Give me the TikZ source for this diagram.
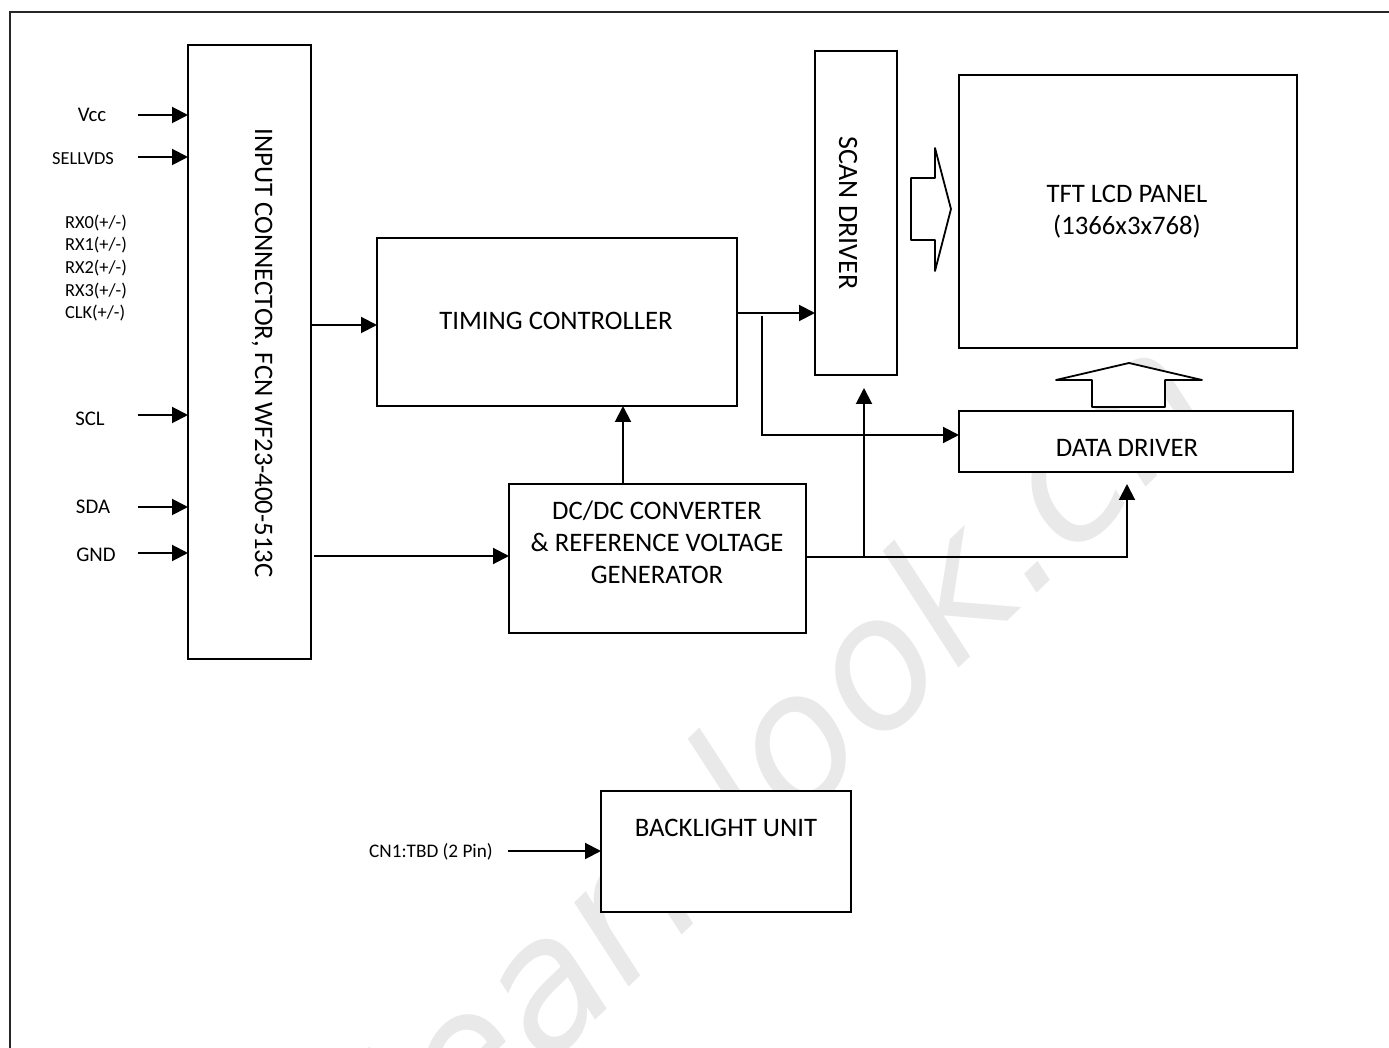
\documentclass[tikz,border=0pt]{standalone}
\usepackage{fontspec}
\setmainfont{Carlito}
\newfontfamily\wmfont{DejaVu Sans}
\usetikzlibrary{arrows.meta}
\definecolor{wmgray}{gray}{0.915}
\tikzset{
  blockbox/.style={draw=black,line width=1.3pt,fill=white,rectangle,inner sep=0pt,outer sep=0pt,anchor=north west},
  maintext/.style={font=\fontsize{13.35}{16}\selectfont,align=center,inner sep=0pt,text=black},
  sigtext/.style={font=\fontsize{10.4}{12}\selectfont,inner sep=0pt,text=black},
  tinytext/.style={font=\fontsize{9.2}{11.3}\selectfont,inner sep=0pt,text=black},
  conn/.style={draw=black,line width=1pt,-{Triangle[length=8pt,width=8pt]}},
  hollow/.style={draw=black,line width=0.9pt,fill=white,line join=round},
  framelin/.style={draw=black!85,line width=1pt}
}
\newcommand{\blk}[6]{\node[blockbox,minimum width=#4*0.5pt,minimum height=#5*0.5pt] (#1) at (#2,#3) {#6};}
\begin{document}
\begin{tikzpicture}[x=0.5pt,y=-0.5pt]
\useasboundingbox (0,0) rectangle (1389,1048);
\begin{scope}
\clip (0,0) rectangle (1389,1048);
\node[rotate=44,text=wmgray,font=\wmfont\itshape\fontsize{90}{90}\selectfont,inner sep=0pt] (wm) at (780,748) {learnlook.cn};
\end{scope}
\coordinate (ftl) at (10,12);
\coordinate (ftr) at (1389,12);
\coordinate (fbl) at (10,1048);
\draw[framelin] (ftr) -- (ftl) -- (fbl);
% blocks
\blk{inbox}{188}{45}{123}{614}{}
\blk{tc}{377}{238}{360}{168}{}
\blk{dc}{509}{484}{297}{149}{}
\blk{scan}{815}{51}{82}{324}{}
\blk{panel}{959}{75}{338}{273}{}
\blk{data}{959}{411}{334}{61}{}
\blk{bl}{601}{791}{250}{121}{}
% block labels
\node[maintext,rotate=-90] (intext) at (262,353) {INPUT CONNECTOR, FCN WF23-400-513C};
\node[maintext] (tctext) at (556,321) {TIMING CONTROLLER};
\node[maintext] (dctext) at (657,542) {DC/DC CONVERTER\\\&\ REFERENCE VOLTAGE\\GENERATOR};
\node[maintext,rotate=-90,font=\fontsize{14}{16}\selectfont] (scantext) at (848,213) {SCAN DRIVER};
\node[maintext] (paneltext) at (1127,212) {TFT LCD PANEL\\(1366x3x768)};
\node[maintext] (datatext) at (1127,448) {DATA DRIVER};
\node[maintext] (bltext) at (726,828) {BACKLIGHT UNIT};
% signal labels
\node[sigtext] (vcc) at (92,115) {Vcc};
\node[tinytext] (sel) at (83,159) {SELLVDS};
\node[tinytext,align=left] (rx) at (96,268) {RX0(+/-)\\RX1(+/-)\\RX2(+/-)\\RX3(+/-)\\CLK(+/-)};
\node[sigtext] (scl) at (90,419) {SCL};
\node[sigtext] (sda) at (93,507) {SDA};
\node[sigtext] (gnd) at (96,555) {GND};
\node[sigtext,font=\fontsize{9.6}{12}\selectfont] (cn) at (431,852) {CN1:TBD (2 Pin)};
% free ends
\coordinate (vccs) at (138,115);
\coordinate (sels) at (138,157);
\coordinate (scls) at (138,415);
\coordinate (sdas) at (138,507);
\coordinate (gnds) at (138,553);
\coordinate (cns) at (508,851);
\coordinate (inout1) at (311,325);
\coordinate (inout2) at (314,556);
\coordinate (tcout) at (737,313);
\coordinate (brtop) at (762,316);
\coordinate (brbot) at (762,435);
\coordinate (dcup) at (623,484);
\coordinate (dcout) at (806,557);
\coordinate (scanj) at (864,557);
\coordinate (scanup) at (864,388);
\coordinate (dataj) at (1127,557);
\coordinate (dataup) at (1127,484);
% connectors
\draw[conn] (vccs) -- (vccs -| inbox.west);
\draw[conn] (sels) -- (sels -| inbox.west);
\draw[conn] (scls) -- (scls -| inbox.west);
\draw[conn] (sdas) -- (sdas -| inbox.west);
\draw[conn] (gnds) -- (gnds -| inbox.west);
\draw[conn] (inout1) -- (inout1 -| tc.west);
\draw[conn] (inout2) -- (inout2 -| dc.west);
\draw[conn] (tcout) -- (tcout -| scan.west);
\draw[conn] (brtop) -- (brbot) -- (brbot -| data.west);
\draw[conn] (dcup) -- (dcup |- tc.south);
\draw[conn] (dcout) -- (dataj) -- (dataup);
\draw[conn] (scanj) -- (scanup);
\draw[conn] (cns) -- (cns -| bl.west);
% hollow arrows
\draw[hollow] (911,178) -- (935,178) -- (935,148) -- (951,209) -- (935,271) -- (935,240) -- (911,240) -- cycle;
\draw[hollow] (1056,380) -- (1129,363) -- (1202,380) -- (1165,380) -- (1165,407) -- (1092,407) -- (1092,380) -- cycle;
\end{tikzpicture}
\end{document}
